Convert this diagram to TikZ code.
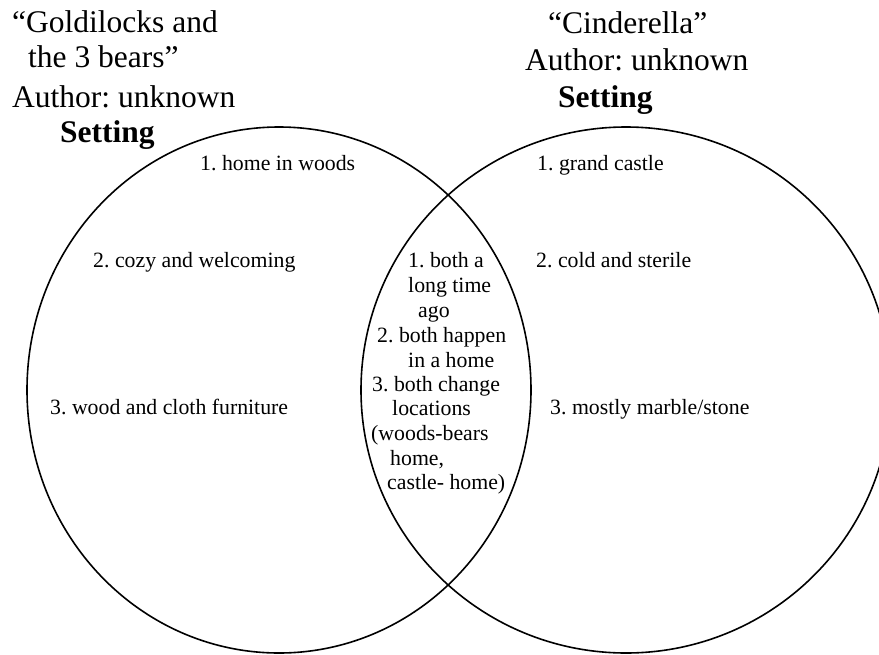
\documentclass[tikz,border=0pt]{standalone}
\usepackage{fontspec}
\setmainfont{Liberation Serif}
\frenchspacing
\begin{document}
\begin{tikzpicture}[x=1pt,y=-1pt,
  big/.style={anchor=base west,inner sep=0pt,font=\fontsize{31.5}{36}\selectfont},
  bigb/.style={big,font=\fontsize{31.5}{36}\selectfont\bfseries},
  small/.style={anchor=base west,inner sep=0pt,font=\fontsize{21.8}{25}\selectfont},
  ring/.style={draw=black,line width=1.6pt}]
\useasboundingbox (0,0) rectangle (879,654);
\clip (0,0) rectangle (879,654);
% circles
\draw[ring] (279,390) ellipse [x radius=252, y radius=263];
\draw[ring] (626,390) ellipse [x radius=265, y radius=263];
% left title
\node[big] (lt1) at (12,32) {“Goldilocks and};
\node[big] (lt2) at (28,67) {the 3 bears”};
\node[big] (lt3) at (12,107) {Author: unknown};
\node[bigb] (lt4) at (60,142) {Setting};
% right title
\node[big] (rt1) at (548,33) {“Cinderella”};
\node[big] (rt2) at (525,70) {Author: unknown};
\node[bigb] (rt3) at (558,107) {Setting};
% left items
\node[small] (l1) at (200,170) {1. home in woods};
\node[small] (l2) at (93,267) {2. cozy and welcoming};
\node[small] (l3) at (50,414) {3. wood and cloth furniture};
% right items
\node[small] (r1) at (537,170) {1. grand castle};
\node[small] (r2) at (536,267) {2. cold and sterile};
\node[small] (r3) at (550,414) {3. mostly marble/stone};
% middle
\node[small] (m1) at (408,267) {1. both a};
\node[small] (m2) at (408,292) {long time};
\node[small] (m3) at (418,317) {ago};
\node[small] (m4) at (377,342) {2. both happen};
\node[small] (m5) at (408,367) {in a home};
\node[small] (m6) at (372,391) {3. both change};
\node[small] (m7) at (392,415) {locations};
\node[small] (m8) at (371,440) {(woods-bears};
\node[small] (m9) at (390,465) {home,};
\node[small] (m10) at (387,489) {castle- home)};
\end{tikzpicture}
\end{document}
